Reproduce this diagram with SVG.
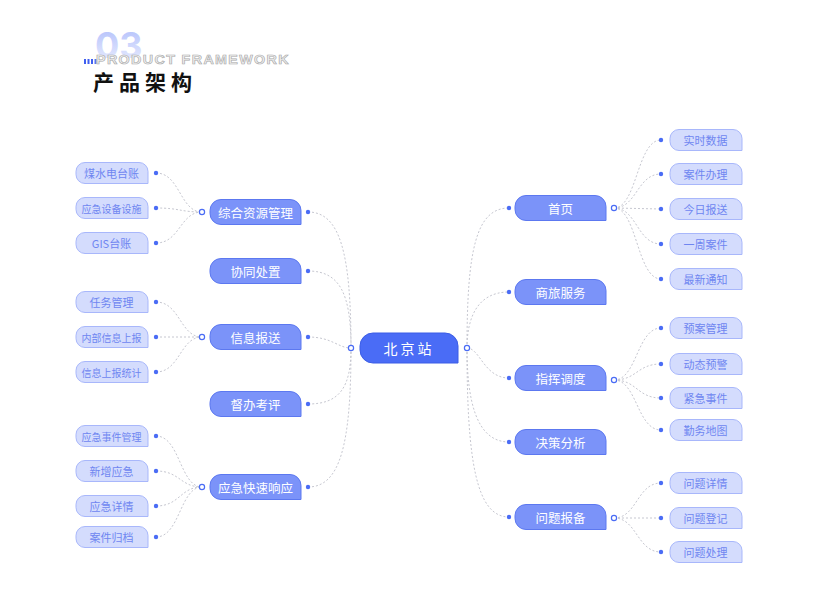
<svg xmlns="http://www.w3.org/2000/svg" width="813" height="600" viewBox="0 0 813 600">
<defs>
<linearGradient id="g03" x1="0" y1="0" x2="0" y2="1">
<stop offset="0" stop-color="#aebcfb"/>
<stop offset="1" stop-color="#eef1fe"/>
</linearGradient>
<path id="leaf" d="M9,0 H63 A9,9 0 0 1 72,9 V21 H9 A9,9 0 0 1 0,12 V9 A9,9 0 0 1 9,0 Z"/>
<path id="lv1" d="M11,0 H80 A11,11 0 0 1 91,11 V25 H11 A11,11 0 0 1 0,14 V11 A11,11 0 0 1 11,0 Z"/>
<path id="ctr" d="M13,0 H85 A13,13 0 0 1 98,13 V30 H13 A13,13 0 0 1 0,17 V13 A13,13 0 0 1 13,0 Z"/>
</defs>
<style>
.t{font-family:"Noto Sans CJK SC","Liberation Sans",sans-serif;text-anchor:middle;dominant-baseline:central}
.leaf{fill:#d4dcfd;stroke:#a8b7fb;stroke-width:1}
.lv1{fill:#7b93f9;stroke:#5c78f0;stroke-width:1}
.ctr{fill:#4a6cf6;stroke:#3b5de6;stroke-width:1}
.lt{font-size:11px;fill:#6f86f1}
.lt6{font-size:10px;fill:#6f86f1}
.wt{font-size:12.5px;fill:#ffffff}
.ct{font-size:14px;fill:#ffffff;letter-spacing:3px}
.con path{fill:none;stroke:#c6c7d0;stroke-width:1;stroke-dasharray:2 2}
.dot{fill:#4a6cf5}
.hol{fill:#ffffff;stroke:#4a6cf5;stroke-width:1.2}
</style>
<rect width="813" height="600" fill="#ffffff"/>

<g id="header">
<text x="95" y="58" font-family="Inter,'Liberation Sans',sans-serif" font-weight="700" font-size="36" fill="url(#g03)">03</text>
<rect x="84" y="59" width="2" height="5" fill="#3f5ef0"/>
<rect x="87.5" y="59" width="2" height="5" fill="#3f5ef0"/>
<rect x="91" y="59" width="2" height="5" fill="#3f5ef0"/>
<rect x="94.5" y="59" width="2" height="5" fill="#5a76f2"/>
<text x="96" y="64" font-family="'Liberation Sans',Arial,sans-serif" font-weight="700" font-size="12.5" letter-spacing="1.2" textLength="194" lengthAdjust="spacingAndGlyphs" fill="#f2f2f2" stroke="#a9a9a9" stroke-width="0.6">PRODUCT FRAMEWORK</text>
<text x="93" y="90" font-family="'Noto Sans CJK SC',sans-serif" font-weight="700" font-size="21" letter-spacing="5" fill="#111111">产品架构</text>
</g>

<g id="connectors" class="con">
<path d="M308,212 C340,212 351,253 351,348"/>
<path d="M308,271 C340,271 351,294 351,348"/>
<path d="M308,337 C332,337 338,348 351,348"/>
<path d="M308,404 C340,404 351,387 351,348"/>
<path d="M308,487 C340,487 351,445 351,348"/>
<path d="M467,348 C467,250 476,208 509,208"/>
<path d="M467,348 C467,320 476,292 509,292"/>
<path d="M467,348 C480,348 484,378 509,378"/>
<path d="M467,348 C467,400 476,442 509,442"/>
<path d="M467,348 C467,460 476,517 509,517"/>
<path d="M156,173 C180,173 180,212 202,212"/>
<path d="M156,208 C180,208 180,212 202,212"/>
<path d="M156,243 C180,243 180,212 202,212"/>
<path d="M156,302 C180,302 180,337 202,337"/>
<path d="M156,337 L202,337"/>
<path d="M156,372 C180,372 180,337 202,337"/>
<path d="M156,436 C180,436 180,487 202,487"/>
<path d="M156,471 C180,471 180,487 202,487"/>
<path d="M156,506 C180,506 180,487 202,487"/>
<path d="M156,537 C180,537 180,487 202,487"/>
<path d="M614,208 C637,208 637,140 661,140"/>
<path d="M614,208 C637,208 637,174 661,174"/>
<path d="M614,208 L661,209"/>
<path d="M614,208 C637,208 637,244 661,244"/>
<path d="M614,208 C637,208 637,279 661,279"/>
<path d="M614,380 C637,380 637,328 661,328"/>
<path d="M614,380 C637,380 637,364 661,364"/>
<path d="M614,380 C637,380 637,398 661,398"/>
<path d="M614,380 C637,380 637,430 661,430"/>
<path d="M614,518 C637,518 637,483 661,483"/>
<path d="M614,518 L661,518"/>
<path d="M614,518 C637,518 637,552 661,552"/>
</g>

<g id="dots">
<circle class="hol" cx="351" cy="348" r="2.6"/>
<circle class="hol" cx="467" cy="348" r="2.6"/>
<circle class="hol" cx="202" cy="212" r="2.6"/>
<circle class="hol" cx="202" cy="337" r="2.6"/>
<circle class="hol" cx="202" cy="487" r="2.6"/>
<circle class="hol" cx="614" cy="208" r="2.6"/>
<circle class="hol" cx="614" cy="380" r="2.6"/>
<circle class="hol" cx="614" cy="518" r="2.6"/>
<circle class="dot" cx="308" cy="212" r="2.2"/>
<circle class="dot" cx="308" cy="271" r="2.2"/>
<circle class="dot" cx="308" cy="337" r="2.2"/>
<circle class="dot" cx="308" cy="404" r="2.2"/>
<circle class="dot" cx="308" cy="487" r="2.2"/>
<circle class="dot" cx="509" cy="208" r="2.2"/>
<circle class="dot" cx="509" cy="292" r="2.2"/>
<circle class="dot" cx="509" cy="378" r="2.2"/>
<circle class="dot" cx="509" cy="442" r="2.2"/>
<circle class="dot" cx="509" cy="517" r="2.2"/>
<circle class="dot" cx="156" cy="173" r="2.2"/>
<circle class="dot" cx="156" cy="208" r="2.2"/>
<circle class="dot" cx="156" cy="243" r="2.2"/>
<circle class="dot" cx="156" cy="302" r="2.2"/>
<circle class="dot" cx="156" cy="337" r="2.2"/>
<circle class="dot" cx="156" cy="372" r="2.2"/>
<circle class="dot" cx="156" cy="436" r="2.2"/>
<circle class="dot" cx="156" cy="471" r="2.2"/>
<circle class="dot" cx="156" cy="506" r="2.2"/>
<circle class="dot" cx="156" cy="537" r="2.2"/>
<circle class="dot" cx="661" cy="140" r="2.2"/>
<circle class="dot" cx="661" cy="174" r="2.2"/>
<circle class="dot" cx="661" cy="209" r="2.2"/>
<circle class="dot" cx="661" cy="244" r="2.2"/>
<circle class="dot" cx="661" cy="279" r="2.2"/>
<circle class="dot" cx="661" cy="328" r="2.2"/>
<circle class="dot" cx="661" cy="364" r="2.2"/>
<circle class="dot" cx="661" cy="398" r="2.2"/>
<circle class="dot" cx="661" cy="430" r="2.2"/>
<circle class="dot" cx="661" cy="483" r="2.2"/>
<circle class="dot" cx="661" cy="518" r="2.2"/>
<circle class="dot" cx="661" cy="552" r="2.2"/>
</g>

<g id="n-center"><use href="#ctr" class="ctr" x="360" y="333"/><text class="t ct" x="410.5" y="348" dx="-1.5">北京站</text></g>

<g id="n-zhzy"><use href="#lv1" class="lv1" x="210" y="199.5"/><text class="t wt" x="255.5" y="212">综合资源管理</text></g>
<g id="n-xtcz"><use href="#lv1" class="lv1" x="210" y="258.5"/><text class="t wt" x="255.5" y="271">协同处置</text></g>
<g id="n-xxbs"><use href="#lv1" class="lv1" x="210" y="324.5"/><text class="t wt" x="255.5" y="337">信息报送</text></g>
<g id="n-dbkp"><use href="#lv1" class="lv1" x="210" y="391.5"/><text class="t wt" x="255.5" y="404">督办考评</text></g>
<g id="n-yjks"><use href="#lv1" class="lv1" x="210" y="474.5"/><text class="t wt" x="255.5" y="487">应急快速响应</text></g>

<g id="n-sy"><use href="#lv1" class="lv1" x="515" y="195.5"/><text class="t wt" x="560.5" y="208">首页</text></g>
<g id="n-slfw"><use href="#lv1" class="lv1" x="515" y="279.5"/><text class="t wt" x="560.5" y="292">商旅服务</text></g>
<g id="n-zhdd"><use href="#lv1" class="lv1" x="515" y="365.5"/><text class="t wt" x="560.5" y="378">指挥调度</text></g>
<g id="n-jcfx"><use href="#lv1" class="lv1" x="515" y="429.5"/><text class="t wt" x="560.5" y="442">决策分析</text></g>
<g id="n-wtbb"><use href="#lv1" class="lv1" x="515" y="504.5"/><text class="t wt" x="560.5" y="517">问题报备</text></g>

<g id="n-l1"><use href="#leaf" class="leaf" x="76" y="162.5"/><text class="t lt" x="111.5" y="173">煤水电台账</text></g>
<g id="n-l2"><use href="#leaf" class="leaf" x="76" y="197.5"/><text class="t lt6" x="111.5" y="208">应急设备设施</text></g>
<g id="n-l3"><use href="#leaf" class="leaf" x="76" y="232.5"/><text class="t lt" x="111.5" y="243">GIS台账</text></g>
<g id="n-l4"><use href="#leaf" class="leaf" x="76" y="291.5"/><text class="t lt" x="111.5" y="302">任务管理</text></g>
<g id="n-l5"><use href="#leaf" class="leaf" x="76" y="326.5"/><text class="t lt6" x="111.5" y="337">内部信息上报</text></g>
<g id="n-l6"><use href="#leaf" class="leaf" x="76" y="361.5"/><text class="t lt6" x="111.5" y="372">信息上报统计</text></g>
<g id="n-l7"><use href="#leaf" class="leaf" x="76" y="425.5"/><text class="t lt6" x="111.5" y="436">应急事件管理</text></g>
<g id="n-l8"><use href="#leaf" class="leaf" x="76" y="460.5"/><text class="t lt" x="111.5" y="471">新增应急</text></g>
<g id="n-l9"><use href="#leaf" class="leaf" x="76" y="495.5"/><text class="t lt" x="111.5" y="506">应急详情</text></g>
<g id="n-l10"><use href="#leaf" class="leaf" x="76" y="526.5"/><text class="t lt" x="111.5" y="537">案件归档</text></g>

<g id="n-r1"><use href="#leaf" class="leaf" x="670" y="129.5"/><text class="t lt" x="705.5" y="140">实时数据</text></g>
<g id="n-r2"><use href="#leaf" class="leaf" x="670" y="163.5"/><text class="t lt" x="705.5" y="174">案件办理</text></g>
<g id="n-r3"><use href="#leaf" class="leaf" x="670" y="198.5"/><text class="t lt" x="705.5" y="209">今日报送</text></g>
<g id="n-r4"><use href="#leaf" class="leaf" x="670" y="233.5"/><text class="t lt" x="705.5" y="244">一周案件</text></g>
<g id="n-r5"><use href="#leaf" class="leaf" x="670" y="268.5"/><text class="t lt" x="705.5" y="279">最新通知</text></g>
<g id="n-r6"><use href="#leaf" class="leaf" x="670" y="317.5"/><text class="t lt" x="705.5" y="328">预案管理</text></g>
<g id="n-r7"><use href="#leaf" class="leaf" x="670" y="353.5"/><text class="t lt" x="705.5" y="364">动态预警</text></g>
<g id="n-r8"><use href="#leaf" class="leaf" x="670" y="387.5"/><text class="t lt" x="705.5" y="398">紧急事件</text></g>
<g id="n-r9"><use href="#leaf" class="leaf" x="670" y="419.5"/><text class="t lt" x="705.5" y="430">勤务地图</text></g>
<g id="n-r10"><use href="#leaf" class="leaf" x="670" y="472.5"/><text class="t lt" x="705.5" y="483">问题详情</text></g>
<g id="n-r11"><use href="#leaf" class="leaf" x="670" y="507.5"/><text class="t lt" x="705.5" y="518">问题登记</text></g>
<g id="n-r12"><use href="#leaf" class="leaf" x="670" y="541.5"/><text class="t lt" x="705.5" y="552">问题处理</text></g>
</svg>
